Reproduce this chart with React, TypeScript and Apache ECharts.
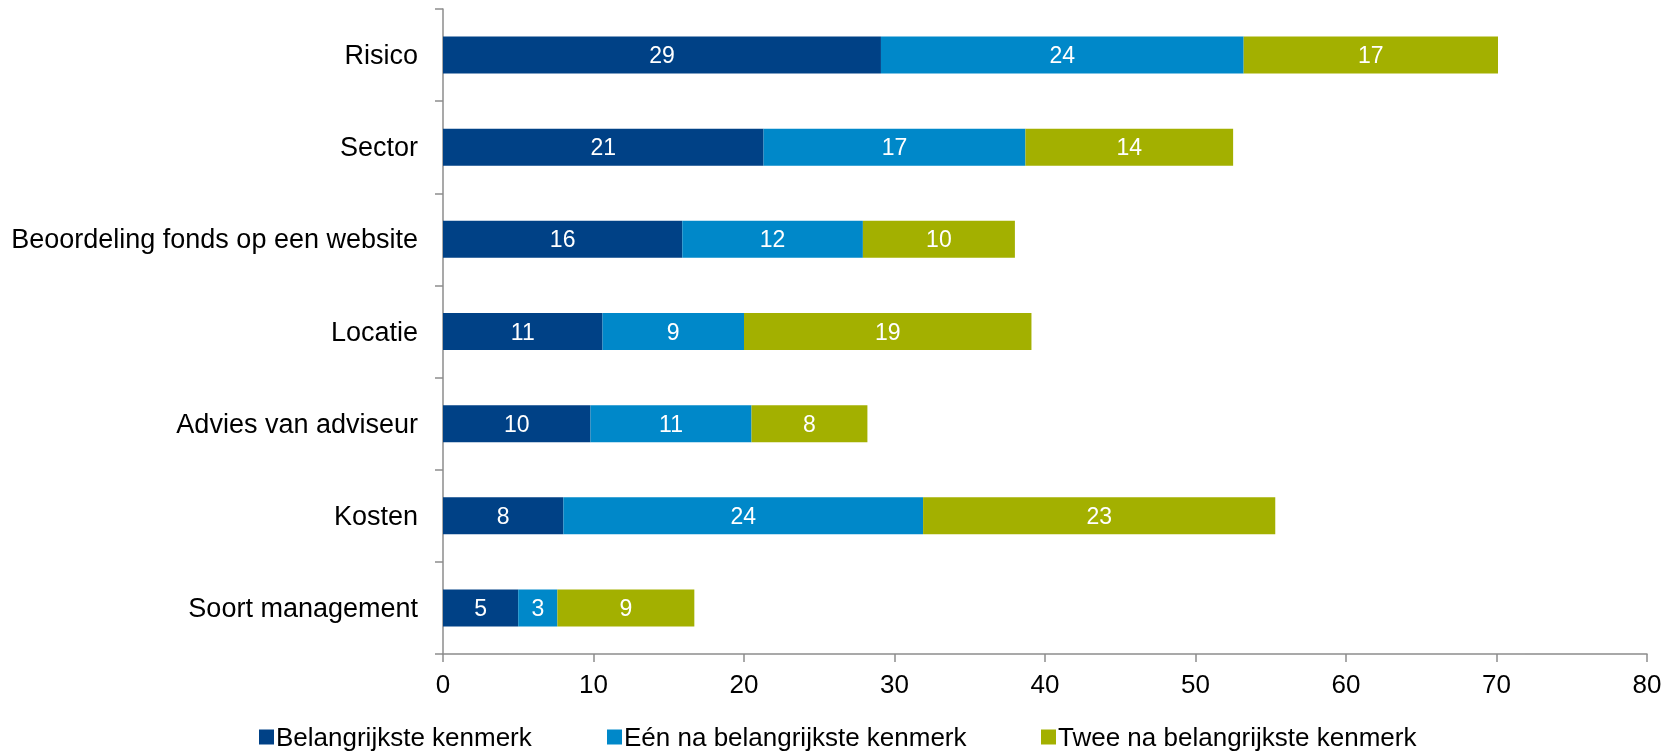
import React, { useEffect, useRef } from "react";
import * as echarts from "echarts";

const categories = [
  "Risico",
  "Sector",
  "Beoordeling fonds op een website",
  "Locatie",
  "Advies van adviseur",
  "Kosten",
  "Soort management",
];
const seriesNames = [
  "Belangrijkste kenmerk",
  "Eén na belangrijkste kenmerk",
  "Twee na belangrijkste kenmerk",
];
const belangrijkste = [29.1, 21.3, 15.9, 10.6, 9.8, 8.0, 5.0];
const eenNa = [24.1, 17.4, 12.0, 9.4, 10.7, 23.9, 2.6];
const tweeNa = [16.9, 13.8, 10.1, 19.1, 7.7, 23.4, 9.1];
const xTicks = [0, 10, 20, 30, 40, 50, 60, 70, 80];

const colors = ["#004186", "#0088C9", "#A3B000"];
const FONT = "'Liberation Sans', Arial, sans-serif";

export default function App() {
  const ref = useRef<HTMLDivElement>(null);
  useEffect(() => {
    if (!ref.current) return;
    const chart = echarts.init(ref.current, null, { renderer: "svg" });
    const values = [belangrijkste, eenNa, tweeNa];
    const legendLefts = [259, 607, 1041];
    chart.setOption({
      animation: false,
      textStyle: { fontFamily: FONT },
      grid: { left: 443, right: 28, top: 9, bottom: 99, containLabel: false },
      legend: seriesNames.map((n, i) => ({
        data: [n],
        left: legendLefts[i],
        top: 724,
        icon: "rect",
        itemWidth: 15,
        itemHeight: 15,
        itemGap: 5,
        padding: 0,
        textStyle: { fontSize: 26, color: "#000", fontFamily: FONT, padding: [0, 0, 0, -3] },
      })),
      xAxis: {
        type: "value",
        min: xTicks[0],
        max: xTicks[xTicks.length - 1],
        interval: 10,
        axisLine: { show: true, lineStyle: { color: "#8c8c8c", width: 1.5 } },
        axisTick: { show: true, length: 8, lineStyle: { color: "#8c8c8c", width: 1.5 } },
        splitLine: { show: false },
        axisLabel: { fontSize: 26, color: "#000", margin: 17, fontFamily: FONT },
      },
      yAxis: {
        type: "category",
        data: categories,
        inverse: true,
        axisLine: { show: true, lineStyle: { color: "#8c8c8c", width: 1.5 } },
        axisTick: { show: true, length: 8, lineStyle: { color: "#8c8c8c", width: 1.5 } },
        axisLabel: { fontSize: 27, color: "#000", margin: 25, fontFamily: FONT },
      },
      series: seriesNames.map((n, i) => ({
        name: n,
        type: "bar",
        stack: "total",
        barWidth: 37,
        data: values[i],
        itemStyle: { color: colors[i] },
        label: {
          show: true,
          position: "inside",
          color: "#fff",
          fontSize: 23,
          fontFamily: FONT,
          formatter: (p: any) => String(Math.round(p.value)),
        },
      })),
    });
    return () => chart.dispose();
  }, []);
  return (
    <div
      ref={ref}
      style={{ position: "fixed", left: 0, top: 0, width: 1675, height: 753 }}
    />
  );
}
